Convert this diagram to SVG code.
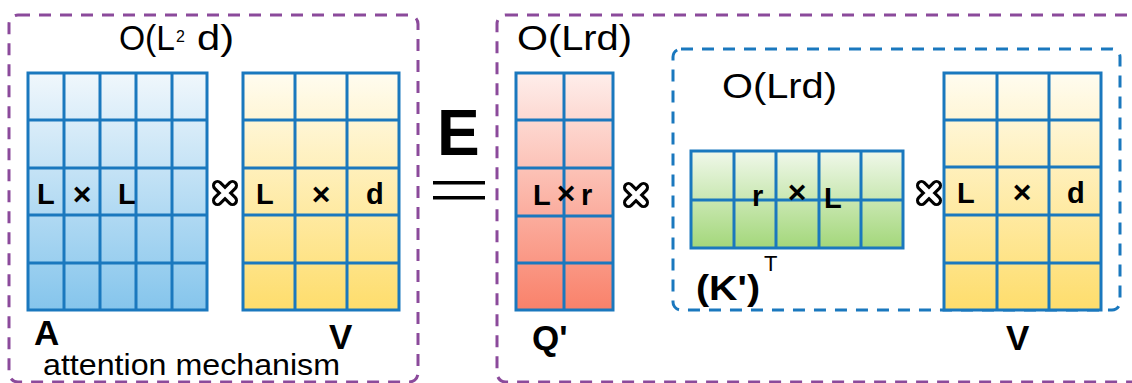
<svg xmlns="http://www.w3.org/2000/svg" width="1132" height="383" viewBox="0 0 1132 383">
<defs>
<linearGradient id="gBlue" x1="0" y1="0" x2="0" y2="1"><stop offset="0" stop-color="#f0f7fc"/><stop offset="1" stop-color="#85c5ec"/></linearGradient>
<linearGradient id="gYel" x1="0" y1="0" x2="0" y2="1"><stop offset="0" stop-color="#fffcf0"/><stop offset="1" stop-color="#fedd6c"/></linearGradient>
<linearGradient id="gRed" x1="0" y1="0" x2="0" y2="1"><stop offset="0" stop-color="#feeeeb"/><stop offset="1" stop-color="#f9816a"/></linearGradient>
<linearGradient id="gGrn" x1="0" y1="0" x2="0" y2="1"><stop offset="0" stop-color="#f0f8ea"/><stop offset="1" stop-color="#a3d77a"/></linearGradient>
<g id="otimes">
<path d="M-7.5,-7.5 L7.5,7.5 M7.5,-7.5 L-7.5,7.5" stroke="#000" stroke-width="11" stroke-linecap="round" fill="none"/>
<path d="M-7.5,-7.5 L7.5,7.5 M7.5,-7.5 L-7.5,7.5" stroke="#fff" stroke-width="5" stroke-linecap="round" fill="none"/>
</g>
</defs>
<style>
.grid{stroke:#1a78be;stroke-width:3;fill:none}
.box{fill:none;stroke-width:3;stroke-dasharray:12 9}
.purple{stroke:#8b4a9b}
.blue{stroke:#1a78be}
.t{font-family:"Liberation Sans",Arial,sans-serif;fill:#000}
.b{font-weight:bold}
.cplx{font-size:35px}
.lbl{font-size:35px;font-weight:bold}
.cell{font-size:29px;font-weight:bold}
.x{font-size:32px;font-weight:bold}
</style>

<g id="group-attention">
<rect class="box purple" x="9" y="15" width="409" height="367" rx="9"/>
<text class="t cplx" x="119" y="50" textLength="56" lengthAdjust="spacingAndGlyphs">O(L</text>
<text class="t" x="176" y="42" font-size="16">2</text>
<text class="t cplx" x="197" y="50" textLength="37" lengthAdjust="spacingAndGlyphs">d)</text>
<text class="t" x="43" y="375" font-size="30" textLength="297" lengthAdjust="spacingAndGlyphs">attention mechanism</text>
</g>

<g id="matrix-A">
<rect x="28" y="73" width="179" height="237" fill="url(#gBlue)"/>
<path class="grid" d="M28,73H207V310H28Z M64,73V310 M100,73V310 M136,73V310 M172,73V310 M28,120H207 M28,168H207 M28,215H207 M28,263H207"/>
<text class="t cell" x="37" y="204">L</text>
<text class="t x" x="82" y="205" text-anchor="middle">×</text>
<text class="t cell" x="118" y="204">L</text>
<text class="t lbl" x="34" y="345">A</text>
</g>

<use href="#otimes" x="225" y="193"/>

<g id="matrix-V1">
<rect x="243" y="73" width="156" height="237" fill="url(#gYel)"/>
<path class="grid" d="M243,73H399V310H243Z M295,73V310 M347,73V310 M243,120H399 M243,168H399 M243,215H399 M243,263H399"/>
<text class="t cell" x="256" y="204">L</text>
<text class="t x" x="321" y="205" text-anchor="middle">×</text>
<text class="t cell" x="366" y="204">d</text>
<text class="t lbl" x="329" y="349">V</text>
</g>

<g id="equals">
<text class="t b" x="437" y="155" font-size="64">E</text>
<rect x="433" y="181" width="52" height="3.5" fill="#000"/>
<rect x="433" y="196" width="52" height="3.5" fill="#000"/>
</g>

<g id="group-lowrank">
<rect class="box purple" x="497" y="15" width="660" height="367" rx="9"/>
<text class="t cplx" x="517" y="50" textLength="115" lengthAdjust="spacingAndGlyphs">O(Lrd)</text>
</g>

<g id="matrix-Q">
<rect x="516" y="73" width="97" height="237" fill="url(#gRed)"/>
<path class="grid" d="M516,73H613V310H516Z M564,73V310 M516,120H613 M516,168H613 M516,216H613 M516,263H613"/>
<text class="t cell" x="533" y="205">L</text>
<text class="t x" x="566" y="204" text-anchor="middle">×</text>
<text class="t cell" x="581" y="205">r</text>
<text class="t lbl" x="532" y="350" font-size="37">Q'</text>
</g>

<use href="#otimes" x="636" y="195"/>

<g id="group-inner">
<rect class="box blue" x="673" y="49" width="447" height="261" rx="8"/>
<text class="t cplx" x="722" y="98" textLength="115" lengthAdjust="spacingAndGlyphs">O(Lrd)</text>
</g>

<g id="matrix-K">
<rect x="691" y="151" width="212" height="97" fill="url(#gGrn)"/>
<path class="grid" d="M691,151H903V248H691Z M734,151V248 M776,151V248 M819,151V248 M861,151V248 M691,200H903"/>
<text class="t cell" x="752" y="206">r</text>
<text class="t x" x="797" y="203" text-anchor="middle">×</text>
<text class="t cell" x="824" y="208">L</text>
<text class="t lbl" x="696" y="300" font-size="37" textLength="64" lengthAdjust="spacingAndGlyphs">(K')</text>
<text class="t" x="764" y="271" font-size="22">T</text>
</g>

<use href="#otimes" x="929" y="193"/>

<g id="matrix-V2">
<rect x="944" y="73" width="157" height="237" fill="url(#gYel)"/>
<path class="grid" d="M944,73H1101V310H944Z M997,73V310 M1049,73V310 M944,120H1101 M944,167H1101 M944,215H1101 M944,263H1101"/>
<text class="t cell" x="957" y="203">L</text>
<text class="t x" x="1022" y="203" text-anchor="middle">×</text>
<text class="t cell" x="1067" y="203">d</text>
<text class="t lbl" x="1006" y="350">V</text>
</g>

<g id="connectors"></g>
</svg>
